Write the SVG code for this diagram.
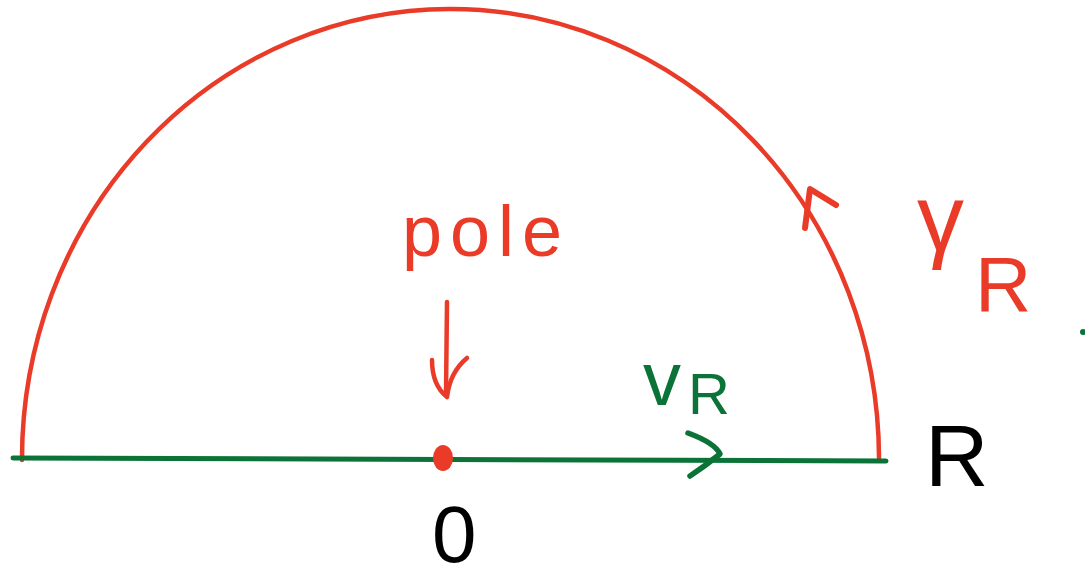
<svg xmlns="http://www.w3.org/2000/svg" width="1085" height="580" viewBox="0 0 1085 580">
<style>
.red{stroke:#ea3a28;fill:none;stroke-linecap:round;stroke-linejoin:round}
.green{stroke:#0b7338;fill:none;stroke-linecap:round;stroke-linejoin:round}
.t{font-family:"Liberation Sans",Arial,sans-serif}
</style>
<rect width="1085" height="580" fill="#fff"/>
<g id="contour">
<g id="gammaR-arc">
<path class="red" stroke-width="4.5" d="M22,460 A428.5,450 0 0 1 879,458"/>
<path class="red" stroke-width="6" d="M805,228 L810,189 L836,205"/>
</g>
<g id="vR-segment">
<path class="green" stroke-width="5" d="M13,458 Q450,458 886,461"/>
<path class="green" stroke-width="5.5" d="M688,433 Q715,443 720,454 Q705,466 690,476"/>
</g>
</g>
<g id="pole">
<path class="red" stroke-width="4.5" d="M447,302 L446,393"/>
<path class="red" stroke-width="4.5" d="M432,360 Q432,385 447,397 Q450,372 467,358"/>
<ellipse cx="443" cy="458" rx="10" ry="13" fill="#ea3a28"/>
<text class="t" x="402" y="256" font-size="72" letter-spacing="8" fill="#ea3a28">pole</text>
</g>
<g id="labels">
<text class="t" x="917" y="250" font-size="94" fill="#ea3a28">γ</text>
<text class="t" x="975" y="311" font-size="78" fill="#ea3a28">R</text>
<text class="t" x="643" y="405" font-size="76" fill="#0b7338">v</text>
<text class="t" x="688" y="414" font-size="58" fill="#0b7338">R</text>
<text class="t" x="925" y="486" font-size="88" fill="#000">R</text>
<text class="t" x="432" y="562" font-size="80" fill="#000">0</text>
<circle cx="1083" cy="332" r="3" fill="#0b7338"/>
</g>
</svg>
